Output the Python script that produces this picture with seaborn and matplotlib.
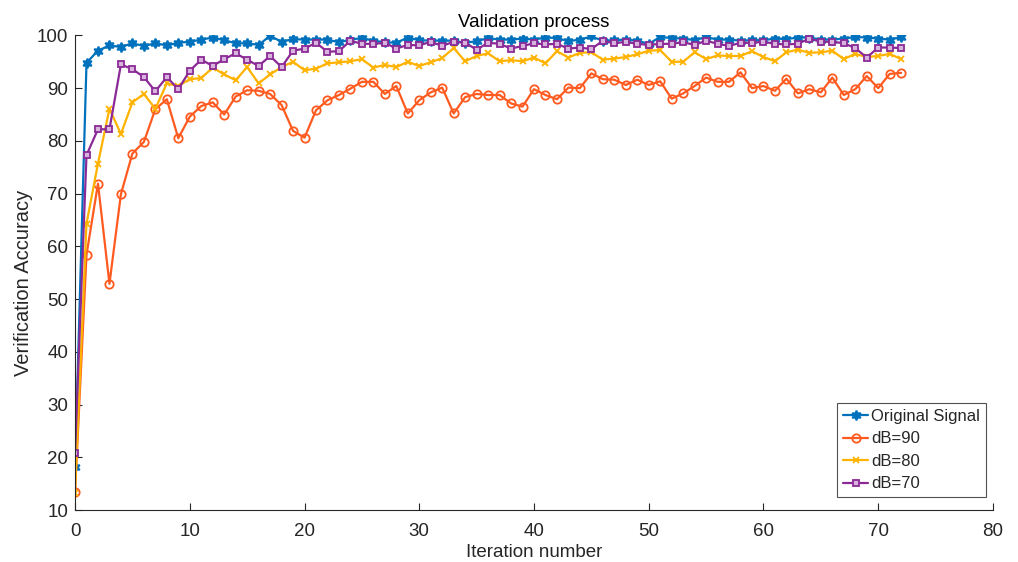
import numpy as np
import pandas as pd
import matplotlib
matplotlib.use("Agg")
import matplotlib.pyplot as plt
import seaborn as sns

# accuracy per iteration
iterations = list(range(73))

original = [18.1, 94.8, 97.1, 98.1, 97.8, 98.5, 98.0, 98.5, 98.1, 98.6,
            98.8, 99.2, 99.6, 99.1, 98.5, 98.5, 98.2, 99.9, 98.8, 99.3,
            99.2, 99.2, 99.2, 98.7, 99.2, 99.5, 99.0, 98.7, 98.6, 99.6,
            99.1, 99.0, 99.0, 99.0, 98.6, 98.9, 99.5, 99.2, 99.2, 99.4,
            99.2, 99.6, 99.5, 98.9, 99.2, 99.8, 99.0, 99.1, 99.2, 99.0,
            98.4, 99.7, 99.5, 99.4, 99.1, 99.7, 99.2, 99.2, 99.0, 99.1,
            99.1, 99.4, 99.3, 99.6, 99.6, 99.2, 99.2, 99.4, 99.7, 99.6,
            99.4, 99.2, 99.7]

db90 = [13.4, 58.4, 71.9, 52.9, 69.9, 77.6, 79.8, 86.0, 87.9, 80.5,
        84.6, 86.6, 87.3, 85.0, 88.4, 89.6, 89.5, 88.9, 86.8, 81.9,
        80.6, 85.8, 87.7, 88.7, 89.9, 91.2, 91.2, 88.9, 90.4, 85.2,
        87.7, 89.2, 90.1, 85.2, 88.3, 88.9, 88.7, 88.7, 87.1, 86.5,
        89.8, 88.7, 87.9, 90.1, 90.0, 92.8, 91.7, 91.6, 90.6, 91.6,
        90.6, 91.3, 88.0, 89.0, 90.4, 92.0, 91.2, 91.2, 93.0, 90.0,
        90.4, 89.5, 91.8, 89.0, 89.8, 89.2, 92.0, 88.7, 89.8, 92.3,
        90.0, 92.7, 92.9]

db80 = [13.3, 64.3, 75.7, 86.1, 81.3, 87.3, 88.9, 86.1, 90.9, 90.4,
        91.7, 91.9, 93.9, 92.6, 91.5, 94.0, 90.9, 92.6, 94.0, 95.0,
        93.4, 93.7, 94.7, 94.9, 95.1, 95.5, 93.9, 94.4, 94.0, 95.0,
        94.2, 94.9, 95.7, 97.6, 95.1, 96.1, 96.6, 95.1, 95.3, 95.1,
        95.8, 94.7, 97.0, 95.8, 96.7, 96.8, 95.4, 95.6, 95.9, 96.4,
        97.1, 97.2, 95.0, 95.0, 96.8, 95.5, 96.2, 96.1, 96.1, 97.0,
        95.9, 95.1, 96.8, 97.3, 96.7, 96.8, 97.1, 95.5, 96.5, 95.9,
        96.1, 96.5, 95.5]

db70 = [20.9, 77.3, 82.2, 82.2, 94.5, 93.6, 92.1, 89.4, 92.1, 89.8,
        93.3, 95.4, 94.2, 95.5, 96.6, 95.4, 94.2, 96.1, 94.0, 97.1,
        97.5, 98.6, 96.9, 97.0, 99.0, 98.4, 98.4, 98.6, 97.5, 98.2,
        98.1, 98.8, 98.0, 98.8, 98.6, 97.3, 98.6, 98.4, 97.5, 98.0,
        98.5, 98.3, 98.4, 97.5, 97.7, 97.4, 99.0, 98.5, 98.8, 98.4,
        98.2, 98.4, 98.4, 98.7, 98.2, 99.0, 98.4, 98.0, 98.6, 98.6,
        98.8, 98.4, 98.3, 98.4, 99.4, 98.8, 98.8, 98.5, 97.6, 95.8,
        97.7, 97.7, 97.6]

series_names = ["Original Signal", "dB=90", "dB=80", "dB=70"]
series_values = [original, db90, db80, db70]

df = pd.concat(
    [pd.DataFrame({"iteration": iterations, "accuracy": vals, "series": name})
     for name, vals in zip(series_names, series_values)],
    ignore_index=True,
)

colors = ["#0072BD", "#FF5A1F", "#FFB300", "#8B2A96"]
markers = [(6, 1, 0), "o", "x", "s"]
marker_sizes = [7, 6, 4, 5]
marker_faces = ["#0072BD", "none", "#FFB300", "#D7B3DD"]

sns.set_style("white")
plt.rcParams["font.family"] = ["Liberation Sans", "DejaVu Sans"]

fig = plt.figure(figsize=(10.18, 5.62), dpi=100)
ax = fig.add_axes([0.0737, 0.0925, 0.9017, 0.8445])

for name, c, m, ms, mf in zip(series_names, colors, markers, marker_sizes, marker_faces):
    sns.lineplot(data=df[df["series"] == name], x="iteration", y="accuracy",
                 ax=ax, color=c, linewidth=1.6, marker=m, markersize=ms,
                 markerfacecolor=mf, markeredgecolor=c, markeredgewidth=1.3,
                 label=name, errorbar=None)

ax.set_xlim(0, 80)
ax.set_ylim(10, 100)
ax.set_xticks(np.arange(0, 81, 10))
ax.set_yticks(np.arange(10, 101, 10))
ax.tick_params(direction="in", length=5, width=0.8, labelsize=13.5,
               colors="#262626", bottom=True, left=True)
ax.tick_params(axis="x", pad=9)
ax.tick_params(axis="y", pad=5)

for side in ["top", "right"]:
    ax.spines[side].set_visible(False)
for side in ["left", "bottom"]:
    ax.spines[side].set_color("#262626")
    ax.spines[side].set_linewidth(0.8)

ax.set_xlabel("Iteration number", fontsize=13.5, color="#262626", labelpad=3)
ax.set_ylabel("Verification Accuracy", fontsize=14.5, color="#262626")
ax.yaxis.set_label_coords(-0.046, 0.478)
ax.set_title("Validation process", fontsize=13.5, color="black", pad=6)

leg = ax.legend(loc="lower right", bbox_to_anchor=(0.9925, 0.027), fontsize=12,
                frameon=True, fancybox=False, borderpad=0.35, labelspacing=0.45,
                handlelength=1.5, handletextpad=0.2, borderaxespad=0)
leg.get_frame().set_edgecolor("#262626")
leg.get_frame().set_linewidth(0.8)

fig.savefig("out.png", dpi=100)
